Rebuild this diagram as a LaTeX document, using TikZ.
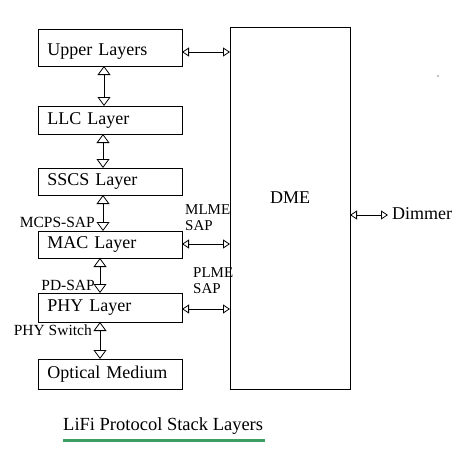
\documentclass[tikz,border=0pt]{standalone}
\usepackage{fontspec}
\setmainfont{Liberation Serif}
\usetikzlibrary{arrows.meta}
\begin{document}
\begin{tikzpicture}[x=1pt,y=-1pt,
  layer/.style={draw,line width=0.9pt,minimum width=144pt,anchor=north west,inner xsep=9pt,inner ysep=0pt,text width=126pt,align=left,font=\fontsize{18}{20}\selectfont},
  vdbl/.style={draw,line width=0.8pt,{Triangle[open,length=9pt,width=13pt]}-{Triangle[open,length=9pt,width=13pt]}},
  hdbl/.style={draw,line width=0.8pt,{Triangle[open,length=7pt,width=9pt]}-{Triangle[open,length=7pt,width=9pt]}},
  lbl/.style={font=\fontsize{15.5}{16}\selectfont,inner sep=0pt}]
\useasboundingbox (0,0) rectangle (468,458);
\node[layer,minimum height=37pt,text height=16pt,text depth=0pt] (ul) at (38,29) {Upper Layers};
\node[layer,minimum height=28pt] (llc) at (38,106) {LLC Layer};
\node[layer,minimum height=27pt] (sscs) at (38,168) {SSCS Layer};
\node[layer,minimum height=27pt] (mac) at (38,231) {MAC Layer};
\node[layer,minimum height=29pt] (phy) at (38,293) {PHY Layer};
\node[layer,minimum height=30pt] (om) at (38,359) {Optical Medium};
\node[draw,line width=0.9pt,anchor=north west,minimum width=120pt,minimum height=362pt,inner sep=0pt] (dme) at (230,27) {};
\node[font=\fontsize{18}{20}\selectfont] (dmet) at (290,198) {DME};
\coordinate (dimr) at (388,215);
\node[anchor=west,font=\fontsize{18}{20}\selectfont,inner sep=0pt] (dim) at (392,214) {Dimmer};
\coordinate (a1) at (104,66); \coordinate (a2) at (104,106);
\coordinate (b1) at (103,134); \coordinate (b2) at (103,168);
\coordinate (c1) at (103,195); \coordinate (c2) at (103,231);
\coordinate (d1) at (100,258); \coordinate (d2) at (100,293);
\coordinate (e1) at (100,322); \coordinate (e2) at (100,359);
\draw[vdbl] (a1) -- (a2);
\draw[vdbl] (b1) -- (b2);
\draw[vdbl] (c1) -- (c2);
\draw[vdbl] (d1) -- (d2);
\draw[vdbl] (e1) -- (e2);
\coordinate (h1) at (182,52); \coordinate (h2) at (230,52);
\coordinate (i1) at (182,244); \coordinate (i2) at (230,244);
\coordinate (j1) at (182,309); \coordinate (j2) at (230,309);
\coordinate (k1) at (350,215);
\draw[hdbl] (h1) -- (h2);
\draw[hdbl] (i1) -- (i2);
\draw[hdbl] (j1) -- (j2);
\draw[hdbl] (k1) -- (dimr);
\node[lbl,anchor=east] (mcps) at (95,222) {MCPS-SAP};
\node[lbl,anchor=east] (pd) at (95,285) {PD-SAP};
\node[lbl,anchor=east] (sw) at (92,330) {PHY Switch};
\node[lbl,anchor=north west,align=left,font=\fontsize{15}{16}\selectfont] (mlme) at (185,204) {MLME\\SAP};
\node[lbl,anchor=north west,align=left,font=\fontsize{15}{16}\selectfont] (plme) at (193,267) {PLME\\SAP};
\node[font=\fontsize{18.5}{20}\selectfont,inner sep=0pt,anchor=west] (cap) at (63,426) {LiFi Protocol Stack Layers};
\draw[line width=3pt,draw={rgb,255:red,60;green,160;blue,100}] (63,440) -- (265,440);
\fill (438,76) circle (0.6pt);
\end{tikzpicture}
\end{document}
